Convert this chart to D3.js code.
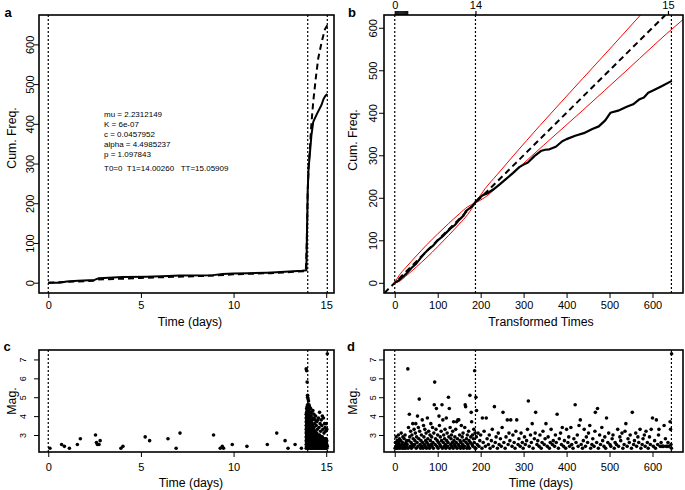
<!DOCTYPE html>
<html><head><meta charset="utf-8">
<script src="https://cdn.jsdelivr.net/npm/d3@7"></script>
<style>
body{margin:0;background:#fff;}
svg{display:block;font-family:"Liberation Sans",Arial,Helvetica,sans-serif;}
</style></head><body>
<svg id="chart" width="685" height="490"></svg>
<script>
// ---------------- DATA ----------------
const paramLines = ["mu = 2.2312149","K = 6e-07","c = 0.0457952","alpha = 4.4985237","p = 1.097843"];
const periodLine = "T0=0  T1=14.00260   TT=15.05909";
const dayTicks = [0,5,10,15];
const cumTicks = [0,100,200,300,400,500,600];
const tauTicks = [0,100,200,300,400,500,600];
const magTicks = [3,4,5,6,7];
const vDays = [0,14.0026,15.05909];          // T0, T1, TT
const vTau = [0,187.9,644];                  // transformed T0, T1, TT
const topTickTau = [0,2.2,4.5,6.7,8.9,11.2,13.4,15.6,17.8,20.1,22.3,24.5,26.8,29.0,187.9,636];
const topTickLab = ["0","","","","","","","","","","","","","","14","15"];

// panel a: observed cumulative count (solid) and model expectation (dashed)
const aObsT = [0,0.6,1.0,1.6,2.5,2.7,3.0,4.0,5.3,6.5,7.1,8.9,9.4,10.0,10.8,11.8,12.3,13.0,13.7,13.93,13.96,14.0,14.05,14.1,14.2,14.3,14.5,14.75,14.85,14.95,15.06];
const aObsN = [0,0,3,5,7,11,12,14,15,17,18,19,22,23,24,25,26,28,30,31,120,230,290,315,370,405,425,448,462,470,475];
const aExpT = [0,1,2.5,2.7,4,5,7,9,10,12,13.9,13.95,14.0,14.05,14.12,14.2,14.3,14.45,14.57,14.75,14.93,15.06];
const aExpN = [0,2,5,8,10,12,15,18,21,24,29,100,230,290,339,400,456,520,565,605,638,648];

// panel b: observed cumulative count vs transformed time, and red confidence bounds
const bObsT = [0,10,20,30,40,50,60,70,80,90,100,110,120,130,140,150,160,165,170,180,188,195,205,215,230,245,260,275,290,300,310,325,340,350,360,375,390,400,420,440,460,475,490,502,520,540,555,570,580,590,600,620,645];
const bObsN = [0,6,15,25,36,45,58,70,80,88,100,108,118,128,136,148,158,168,172,180,190,198,206,210,220,232,245,258,272,278,283,298,310,313,314,320,333,338,346,352,362,368,382,400,405,414,420,432,436,447,452,462,475];
const bUpT = [0,10,25,50,75,100,125,150,170,187.9,210,238,277,338,438,572,600];
const bUpN = [0,17,35,63,90,115,139,162,179,188,221,254,300,370,481,630,662];
const bLoT = [0,10,25,50,75,100,125,150,170,187.9,210,238,288,347,438,538,665,671];
const bLoN = [0,3,15,37,60,85,111,138,161,188,201,225,270,324,406,498,614,619];

// panel c: magnitudes vs days before the sequence
const cPre = [[0.09,2.3],[0.72,2.5],[0.87,2.4],[1.14,2.3],[1.57,2.5],[1.73,2.8],[2.55,3.0],[2.6,2.6],[2.65,2.5],[2.74,2.5],[2.8,2.7],[3.92,2.3],[4.03,2.4],[5.23,2.9],[5.47,2.7],[6.46,2.8],[6.9,2.3],[7.11,3.1],[8.92,3.0],[9.28,2.3],[9.39,2.4],[9.46,2.3],[9.93,2.5],[10.72,2.4],[11.82,2.5],[12.33,3.1],[12.78,2.7],[12.94,2.3],[13.32,2.5],[13.66,2.3]];
// panel c: aftershock cluster, by day column
const cCluster = [
 [13.92,[2.3,2.5,2.7,2.9,3.1,3.3,3.5,3.7,3.9,4.1,6.5]],
 [13.945,[2.4,2.6,2.8,3.0,3.2,3.4,3.6,3.8,4.0,4.2,4.4,6.4]],
 [13.97,[2.3,2.5,2.7,2.9,3.1,3.3,3.5,3.7,3.9,4.1,4.3,4.5,5.8]],
 [13.995,[2.4,2.6,2.8,3.0,3.2,3.4,3.6,3.8,4.0,4.2,4.4,4.6,5.1,5.0]],
 [14.02,[2.3,2.5,2.7,2.9,3.1,3.3,3.5,3.7,3.9,4.1,4.3,4.5,4.9]],
 [14.045,[2.4,2.6,2.8,3.0,3.2,3.4,3.6,3.8,4.0,4.2,4.4,4.8]],
 [14.07,[2.3,2.5,2.7,2.9,3.1,3.3,3.5,3.7,3.9,4.1,4.3,4.6]],
 [14.1,[2.4,2.6,2.8,3.0,3.2,3.4,3.6,3.8,4.0,4.2,4.5]],
 [14.13,[2.3,2.5,2.7,2.9,3.1,3.3,3.5,3.7,3.9,4.1]],
 [14.16,[2.4,2.6,2.8,3.0,3.2,3.4,3.6,3.8,4.4]],
 [14.19,[2.3,2.5,2.7,2.9,3.1,3.3,3.5,3.7,4.0]],
 [14.22,[2.4,2.6,2.8,3.0,3.2,3.4,3.6,4.2]],
 [14.25,[2.3,2.5,2.7,2.9,3.1,3.3,3.5,3.8]],
 [14.28,[2.4,2.6,2.8,3.0,3.2,3.4,4.3]],
 [14.31,[2.3,2.5,2.7,2.9,3.1,3.3,3.9]],
 [14.34,[2.4,2.6,2.8,3.0,3.2,3.4,4.1]],
 [14.37,[2.3,2.5,2.7,2.9,3.1,3.6]],
 [14.4,[2.4,2.6,2.8,3.0,3.2,3.8]],
 [14.43,[2.3,2.5,2.7,2.9,3.1,4.0]],
 [14.46,[2.4,2.6,2.8,3.0,3.5]],
 [14.49,[2.3,2.5,2.7,2.9,3.1,3.7]],
 [14.52,[2.4,2.6,2.8,3.0,3.3]],
 [14.55,[2.3,2.5,2.7,2.9,3.8]],
 [14.58,[2.4,2.6,2.8,3.0,3.9]],
 [14.61,[2.3,2.5,2.7,2.9,3.4]],
 [14.64,[2.4,2.6,2.8,3.0,4.2]],
 [14.67,[2.3,2.5,2.7,2.9,3.6]],
 [14.7,[2.4,2.6,2.8,3.2]],
 [14.73,[2.3,2.5,2.7,2.9,3.8]],
 [14.76,[2.4,2.6,2.8,3.5]],
 [14.79,[2.3,2.5,2.7,2.9,4.0]],
 [14.82,[2.4,2.6,2.8,3.3]],
 [14.85,[2.3,2.5,2.7,3.9]],
 [14.88,[2.4,2.6,2.8,3.1]],
 [14.91,[2.3,2.5,2.7,3.6]],
 [14.94,[2.4,2.6,2.8,3.4]],
 [14.97,[2.3,2.5,2.7,3.2]],
 [15.0,[2.4,2.6,2.8,3.6]],
 [15.03,[2.3,2.5,2.7,3.3]],
 [15.06,[2.4,7.3]]
];

// panel d: magnitudes vs transformed time
const dPts = [
[0.8,2.3],[1.6,2.6],[2.5,2.4],[3.3,2.9],[4.1,2.3],[5,2.5],[5.8,2.7],[6.7,2.4],[7.5,2.3],[8.4,3.0],[9.2,2.6],[10,2.5],[11,2.8],[12,2.3],[13,2.4],[14,2.7],[15,3.1],[16,2.5],[17,2.3],[18,2.6],[19,2.9],[20,2.4],[21,2.3],[22,2.8],[23,2.5],[24,3.0],[25,2.3],[26,2.6],[27,2.4],[28,2.7],[29,2.5],
[30.5,6.5],[31,2.3],[32,3.4],[33,2.7],[34,4.1],[35,2.9],[36,2.4],[37,3.2],[38,2.6],[39,2.3],[40,3.0],[41,2.5],[42,3.6],[43,2.8],[44,2.4],[45,3.3],[46,2.5],[47,2.7],[48,3.1],[49,3.6],[50,2.3],[51,2.9],[52,2.6],[53,4.0],[54,2.4],[55,3.4],[56,2.8],[57,4.9],[58,3.2],[59,2.5],[60,2.3],
[61,2.7],[62,3.0],[63,2.4],[64,3.8],[65,2.6],[66,2.3],[67,3.5],[68,2.9],[69,2.5],[70,3.3],[71,2.4],[72,2.7],[73,3.1],[74,2.3],[75,2.6],[76,3.9],[77,2.8],[78,2.5],[79,3.2],[80,2.4],[81,2.3],[82,3.0],[83,2.7],[84,3.6],[85,2.5],[86,2.9],[87,2.4],[88,3.4],[89,2.6],[90,2.3],
[91,3.1],[92,4.6],[93,5.8],[94,2.5],[95,2.8],[96,3.3],[97,4.4],[98,2.4],[99,2.7],[100,3.0],[101,2.3],[102,2.6],[103,4.0],[104,3.5],[105,2.5],[106,2.9],[107,2.4],[108,3.2],[109,2.7],[110,4.6],[111,2.3],[112,3.8],[113,2.6],[114,3.0],[115,2.4],[116,2.8],[117,3.3],[118,2.5],[119,2.3],[120,3.9],
[121,2.7],[122,3.1],[123,2.4],[124,2.6],[125,5.0],[126,2.9],[127,4.4],[128,2.3],[129,3.4],[130,2.5],[131,2.8],[132,3.0],[133,2.4],[134,2.6],[135,3.2],[136,2.3],[137,3.7],[138,2.7],[139,2.5],[140,2.9],[141,2.4],[142,3.3],[143,2.6],[144,3.7],[145,2.3],[146,2.8],[147,3.8],[148,2.5],[149,3.8],[150,2.4],
[151,3.0],[152,2.7],[153,2.3],[154,2.6],[155,3.5],[156,2.4],[157,2.9],[158,2.5],[159,3.1],[160,2.3],[161,2.7],[162,2.4],[163,3.4],[164,4.6],[165,4.5],[166,2.6],[167,2.8],[168,2.3],[169,3.0],[170,2.5],[171,2.4],[172,3.2],[173,2.7],[174,2.3],[175,5.1],[176,2.6],[177,2.9],[178,4.2],[179,3.7],[180,2.5],
[181,3.0],[182,2.4],[183,2.8],[184,3.3],[185,2.6],[186,6.4],[187,3.1],[187.5,2.3],
[188.5,2.3],[189,5.0],[190,2.9],[190.5,4.3],[192,2.5],[194,3.1],[196,2.4],[198,2.7],[200,3.0],[203,2.3],[204,3.9],[206,2.6],[208,3.2],[211,2.4],[213,3.9],[215,2.8],[218,2.5],[220,3.0],[222,2.3],[225,2.7],[227,3.3],[229,2.4],
[232,4.5],[234,2.6],[236,2.9],[239,2.3],[241,3.1],[243,2.5],[246,2.8],[248,2.4],[250,3.4],[252,4.2],[254,2.6],[257,2.3],[259,2.9],[262,3.8],[264,2.5],[266,3.1],[268,2.7],[270,3.8],[273,2.4],[275,3.0],[278,2.6],[280,2.3],
[282,3.2],[284,3.8],[287,2.5],[289,2.8],[292,2.4],[294,3.1],[297,2.6],[299,2.3],[302,2.9],[304,2.5],[307,2.7],[309,3.3],[311,4.8],[313,2.4],[316,3.0],[318,2.6],[320,3.6],[322,2.3],[325,2.8],[327,3.1],[328,4.2],[331,2.5],
[333,2.7],[336,2.4],[338,3.0],[341,2.3],[343,2.6],[345,3.2],[348,2.5],[350,2.8],[352,3.6],[355,2.4],[357,2.9],[360,2.3],[362,2.6],[364,3.3],[367,2.5],[369,2.7],[372,2.4],[374,3.0],[376,2.6],[378,4.1],[381,2.3],[383,2.8],
[386,3.1],[388,2.5],[390,3.4],[393,2.4],[395,2.7],[398,2.3],[400,3.3],[403,2.6],[405,2.9],[407,2.4],[410,3.4],[412,2.5],[415,2.3],[417,2.8],[420,4.6],[422,2.6],[425,3.0],[427,2.4],[429,3.5],[432,3.8],[434,2.5],[437,2.3],
[439,2.7],[441,3.3],[444,2.4],[446,2.9],[449,2.6],[451,3.1],[454,3.5],[456,2.3],[459,2.5],[461,2.8],[464,2.4],[466,3.2],[467,4.2],[470,2.6],[472,4.4],[474,2.3],[477,3.0],[479,2.5],[482,3.4],[484,2.7],[487,2.4],[489,2.9],
[491,2.3],[493,3.9],[496,2.6],[498,3.1],[501,2.5],[503,2.4],[506,2.8],[508,3.0],[511,2.3],[513,2.6],[516,2.5],[519,3.3],[521,2.4],[524,2.9],[526,2.7],[529,3.1],[531,2.3],[534,2.5],[536,3.2],[538,3.6],[541,2.4],[543,2.8],
[546,2.6],[548,3.0],[551,2.3],[553,4.2],[556,2.5],[558,2.7],[561,3.1],[563,2.4],[566,2.9],[568,2.6],[571,3.3],[573,2.3],[576,2.5],[578,2.8],[581,3.0],[583,2.4],[585,3.2],[588,2.6],[590,2.3],[593,2.9],[595,2.5],[597,3.3],
[600,3.9],[602,2.4],[605,2.7],[607,2.3],[609,3.8],[612,2.5],[614,3.0],[615,3.3],[618,2.4],[620,2.6],[622,2.4],[624,2.4],[626,2.4],[627,3.5],[630,2.8],[632,2.4],[634,2.4],[636,2.6],[638,2.4],[641,3.7],[642,3.3],[643,2.5],[644,2.3],[644.5,7.3]
];

// ---------------- SCALES ----------------
const svg = d3.select("#chart");
const FONT = 11, TITLE = 12.3;
const xDays = d3.scaleLinear().domain([-0.5,15.42]).range([39,334]);
const yCumA = d3.scaleLinear().domain([-26,674]).range([293,15]);
const xTau  = d3.scaleLinear().domain([-25,671]).range([384,683]);
const yCumB = d3.scaleLinear().domain([-24,630]).range([293,15]);
const yMagC = d3.scaleLinear().domain([2.1,7.5]).range([452,350]);
const yMagD = d3.scaleLinear().domain([2.1,7.5]).range([452,350]);

function plotArea(id, xs, ys){
  const [x0,x1] = xs.range(), [yb,yt] = ys.range();
  svg.append("clipPath").attr("id",id).append("rect")
     .attr("x",x0).attr("y",yt).attr("width",x1-x0).attr("height",yb-yt);
  return svg.append("g").attr("clip-path",`url(#${id})`);
}
function frame(xs, ys){
  const [x0,x1] = xs.range(), [yb,yt] = ys.range();
  svg.append("rect").attr("x",x0).attr("y",yt).attr("width",x1-x0).attr("height",yb-yt)
     .attr("fill","none").attr("stroke","#000").attr("stroke-width",1.6);
}
function xAxis(xs, ys, ticks, pad){
  const g = svg.append("g").attr("transform",`translate(0,${ys.range()[0]})`)
    .call(d3.axisBottom(xs).tickValues(ticks).tickFormat(d3.format("d")).tickSize(5).tickSizeOuter(0).tickPadding(pad));
  g.select(".domain").remove();
  g.selectAll("line").attr("stroke","#000").attr("stroke-width",1);
  g.selectAll("text").attr("font-size",FONT).attr("fill","#000").attr("font-family",null);
}
function yAxis(xs, ys, ticks, k, fs){
  const g = svg.append("g").attr("transform",`translate(${xs.range()[0]},0)`)
    .call(d3.axisLeft(ys).tickValues(ticks).tickFormat(d3.format("d")).tickSize(5).tickSizeOuter(0));
  g.select(".domain").remove();
  g.selectAll("line").attr("stroke","#000").attr("stroke-width",1);
  g.selectAll("text").attr("font-size",fs).attr("fill","#000").attr("font-family",null)
    .attr("transform","rotate(-90)").attr("x",0).attr("y",-k).attr("dy",0).attr("text-anchor","middle");
}
function vlines(g, xs, ys, vals){
  const [yb,yt] = ys.range();
  g.selectAll(null).data(vals).join("line")
    .attr("x1",d=>xs(d)).attr("x2",d=>xs(d)).attr("y1",yt).attr("y2",yb)
    .attr("stroke","#000").attr("stroke-width",1.2).attr("stroke-dasharray","2,2");
}
function label(txt, x, y, opts={}){
  const t = svg.append("text").attr("x",x).attr("y",y).text(txt)
    .attr("font-size",opts.size||TITLE).attr("text-anchor",opts.anchor||"middle").attr("fill","#000");
  if(opts.bold) t.attr("font-weight","bold");
  if(opts.rot) t.attr("transform",`rotate(-90,${x},${y})`);
  return t;
}
const zip = (a,b)=>a.map((v,i)=>[v,b[i]]);

// ---------------- PANEL a ----------------
{
  const g = plotArea("clipA", xDays, yCumA);
  vlines(g, xDays, yCumA, vDays);
  const line = d3.line().x(d=>xDays(d[0])).y(d=>yCumA(d[1]));
  g.append("path").attr("d",line(zip(aExpT,aExpN))).attr("fill","none").attr("stroke","#000")
    .attr("stroke-width",2).attr("stroke-dasharray","6,4");
  g.append("path").attr("d",line(zip(aObsT,aObsN))).attr("fill","none").attr("stroke","#000")
    .attr("stroke-width",2).attr("stroke-linejoin","round");
  frame(xDays, yCumA);
  xAxis(xDays, yCumA, dayTicks, 3);
  yAxis(xDays, yCumA, cumTicks, 5, FONT);
  paramLines.forEach((s,i)=>label(s, 104, 117+i*10, {size:8, anchor:"start"}));
  label(periodLine, 104, 171, {size:8, anchor:"start"}).style("white-space","pre");
  label("Time (days)", 190, 326);
  label("Cum. Freq.", 16, 138, {rot:true});
  label("a", 8, 17, {bold:true, size:13});
}
// ---------------- PANEL b ----------------
{
  const g = plotArea("clipB", xTau, yCumB);
  vlines(g, xTau, yCumB, vTau);
  const line = d3.line().x(d=>xTau(d[0])).y(d=>yCumB(d[1]));
  const curve = d3.line().x(d=>xTau(d[0])).y(d=>yCumB(d[1])).curve(d3.curveMonotoneX);
  const dom = yCumB.domain();
  g.append("path").attr("d",line([[dom[0],dom[0]],[dom[1],dom[1]]])).attr("fill","none")
    .attr("stroke","#000").attr("stroke-width",2).attr("stroke-dasharray","6,4");
  [[bUpT,bUpN],[bLoT,bLoN]].forEach(([T,N])=>{
    const pts = zip(T,N), k = T.indexOf(vTau[1]);
    [pts.slice(0,k+1), pts.slice(k)].forEach(seg=>
      g.append("path").attr("d",curve(seg)).attr("fill","none").attr("stroke","#ff0000").attr("stroke-width",1));
  });
  g.append("path").attr("d",line(zip(bObsT,bObsN))).attr("fill","none").attr("stroke","#000")
    .attr("stroke-width",2.2).attr("stroke-linejoin","round");
  frame(xTau, yCumB);
  xAxis(xTau, yCumB, tauTicks, 3);
  yAxis(xTau, yCumB, cumTicks, 7, FONT);
  const top = svg.append("g").attr("transform",`translate(0,${yCumB.range()[1]})`)
    .call(d3.axisTop(xTau).tickValues(topTickTau).tickFormat((d,i)=>topTickLab[i]).tickSize(4).tickSizeOuter(0).tickPadding(2));
  top.select(".domain").remove();
  top.selectAll("line").attr("stroke","#000").attr("stroke-width",1.2);
  top.selectAll("text").attr("font-size",FONT).attr("fill","#000").attr("font-family",null);
  label("Transformed Times", 541, 326);
  label("Cum. Freq.", 357, 140, {rot:true});
  label("b", 352, 17, {bold:true, size:13});
}
// ---------------- PANEL c ----------------
{
  const g = plotArea("clipC", xDays, yMagC);
  vlines(g, xDays, yMagC, vDays);
  const pts = cPre.concat(cCluster.flatMap(([t,ms])=>ms.map(m=>[t,m])));
  g.selectAll(null).data(pts).join("circle").attr("cx",d=>xDays(d[0])).attr("cy",d=>yMagC(d[1]))
    .attr("r",1.8).attr("fill","#000");
  frame(xDays, yMagC);
  xAxis(xDays, yMagC, dayTicks, 6);
  yAxis(xDays, yMagC, magTicks, 13, 9);
  label("Time (days)", 191, 487);
  label("Mag.", 16, 401, {rot:true});
  label("c", 7, 351, {bold:true, size:13});
}
// ---------------- PANEL d ----------------
{
  const g = plotArea("clipD", xTau, yMagD);
  vlines(g, xTau, yMagD, vTau);
  g.selectAll(null).data(dPts).join("circle").attr("cx",d=>xTau(d[0])).attr("cy",d=>yMagD(d[1]))
    .attr("r",1.8).attr("fill","#000");
  frame(xTau, yMagD);
  xAxis(xTau, yMagD, tauTicks, 6);
  yAxis(xTau, yMagD, magTicks, 8, 9);
  label("Time (days)", 541, 487);
  label("Mag.", 357, 401, {rot:true});
  label("d", 351, 351, {bold:true, size:13});
}
</script>
</body></html>
